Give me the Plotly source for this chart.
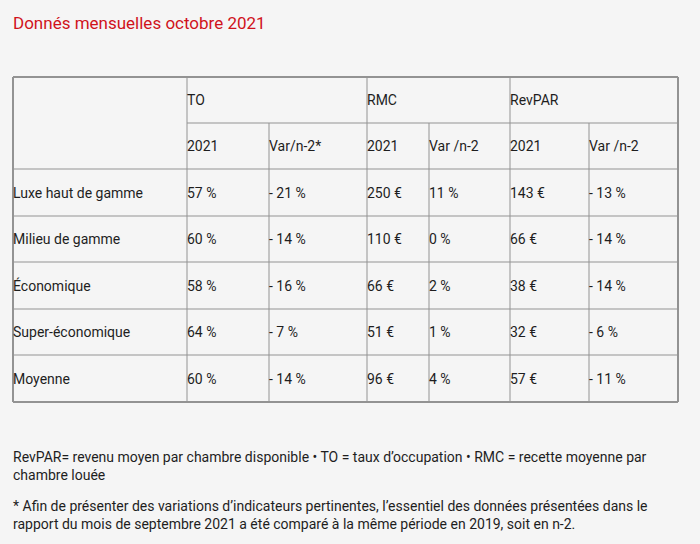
import plotly.graph_objects as go

# ---- data ----
title = "Donnés mensuelles octobre 2021"
group_headers = ["TO", "RMC", "RevPAR"]
sub_headers = ["2021", "Var/n-2*", "2021", "Var /n-2", "2021", "Var /n-2"]
categories = ["Luxe haut de gamme", "Milieu de gamme", "Économique", "Super-économique", "Moyenne"]
to_2021 = ["57 %", "60 %", "58 %", "64 %", "60 %"]
to_var = ["- 21 %", "- 14 %", "- 16 %", "- 7 %", "- 14 %"]
rmc_2021 = ["250 €", "110 €", "66 €", "51 €", "96 €"]
rmc_var = ["11 %", "0 %", "2 %", "1 %", "4 %"]
revpar_2021 = ["143 €", "66 €", "38 €", "32 €", "57 €"]
revpar_var = ["- 13 %", "- 14 %", "- 14 %", "- 6 %", "- 11 %"]
footnote1 = "RevPAR= revenu moyen par chambre disponible • TO = taux d’occupation • RMC = recette moyenne par<br>chambre louée"
footnote2 = "* Afin de présenter des variations d’indicateurs pertinentes, l’essentiel des données présentées dans le<br>rapport du mois de septembre 2021 a été comparé à la même période en 2019, soit en n-2."

# ---- layout geometry ----
W, H = 700, 544
col_edges = [13, 187, 269, 367, 429, 510, 589, 678]
row_edges = [77, 123, 169, 216, 262, 309, 355, 402]
LINE = "#939393"
TXT = "#1e1e1e"
FONT = "Roboto, Arial, sans-serif"
BG = "#f5f5f5"

fig = go.Figure()
shapes = []
annotations = []

def hline(y, x0, x1, w=1):
    shapes.append(dict(type="line", x0=x0, x1=x1, y0=y, y1=y, xref="x", yref="y",
                       line=dict(color=LINE, width=w)))

def vline(x, y0, y1, w=1):
    shapes.append(dict(type="line", x0=x, x1=x, y0=y0, y1=y1, xref="x", yref="y",
                       line=dict(color=LINE, width=w)))

# horizontal lines
hline(row_edges[0], col_edges[0], col_edges[-1], 2)
hline(row_edges[1], col_edges[1], col_edges[-1])
for y in row_edges[2:-1]:
    hline(y, col_edges[0], col_edges[-1])
hline(row_edges[-1], col_edges[0], col_edges[-1], 2)

# vertical lines
vline(col_edges[0], row_edges[0], row_edges[-1], 2)
vline(col_edges[-1], row_edges[0], row_edges[-1], 2)
for i, x in enumerate(col_edges[1:-1], start=1):
    if i in (1, 3, 5):
        vline(x, row_edges[0], row_edges[-1])
    else:
        vline(x, row_edges[1], row_edges[-1])

def cell_text(text, ci, ri):
    x = col_edges[ci] - 2
    y = (row_edges[ri] + row_edges[ri + 1]) / 2
    annotations.append(dict(x=x, y=y, xref="x", yref="y", text=text, showarrow=False,
                            xanchor="left", yanchor="middle",
                            font=dict(family=FONT, size=14, color=TXT)))

for gi, g in enumerate(group_headers):
    cell_text(g, 1 + 2 * gi, 0)
for si, s in enumerate(sub_headers):
    cell_text(s, 1 + si, 1)

columns = [to_2021, to_var, rmc_2021, rmc_var, revpar_2021, revpar_var]
for ri, cat in enumerate(categories):
    cell_text(cat, 0, 2 + ri)
    for ci, col in enumerate(columns):
        cell_text(col[ri], 1 + ci, 2 + ri)

# title
annotations.append(dict(x=11, y=22.5, xref="x", yref="y", text=title, showarrow=False,
                        xanchor="left", yanchor="middle",
                        font=dict(family=FONT, size=17, color="#d0121b")))

# footnotes
annotations.append(dict(x=11, y=447, xref="x", yref="y", text=footnote1, showarrow=False,
                        xanchor="left", yanchor="top", align="left",
                        font=dict(family=FONT, size=14, color=TXT)))
annotations.append(dict(x=11, y=496, xref="x", yref="y", text=footnote2, showarrow=False,
                        xanchor="left", yanchor="top", align="left",
                        font=dict(family=FONT, size=14, color=TXT)))

fig.update_layout(
    width=W, height=H,
    margin=dict(l=0, r=0, t=0, b=0),
    paper_bgcolor=BG, plot_bgcolor=BG,
    xaxis=dict(range=[0, W], visible=False, fixedrange=True),
    yaxis=dict(range=[H, 0], visible=False, fixedrange=True),
    shapes=shapes, annotations=annotations, showlegend=False,
)

fig.write_html(
    "out.html",
    config={"displayModeBar": False},
    post_script="document.body.style.margin='0';document.body.style.background='%s';" % BG,
)
